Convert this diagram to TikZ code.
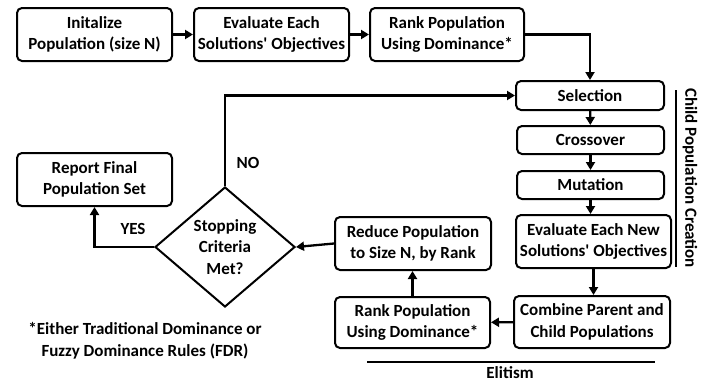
\documentclass[tikz,border=0pt]{standalone}
\usepackage{fontspec}
\newfontfamily\calib{Carlito}
\usetikzlibrary{shapes.geometric,arrows.meta}
\begin{document}
\begin{tikzpicture}[x=1pt,y=-1pt,
  every node/.style={font=\calib\bfseries\fontsize{17}{21.5}\selectfont, align=center},
  box/.style={draw, line width=2pt, rounded corners=5pt, inner sep=0pt},
  conn/.style={line width=2.3pt, -{Triangle[length=8pt,width=9pt]}},
  plain/.style={line width=2.2pt}]
\useasboundingbox (0,0) rectangle (720,383);
% top row
\node[box, minimum width=155, minimum height=53] (init) at (94.5,34.5) {Initalize\\Population (size N)};
\node[box, minimum width=155, minimum height=53] (eval) at (271.5,34.5) {Evaluate Each\\Solutions' Objectives};
\node[box, minimum width=154, minimum height=53] (rank1) at (447,34.5) {Rank Population\\Using Dominance*};
% right column
\node[box, minimum width=148, minimum height=29] (sel) at (590,95.5) {Selection};
\node[box, minimum width=147, minimum height=28] (cross) at (590.5,140) {Crossover};
\node[box, minimum width=147, minimum height=28] (mut) at (590.5,185) {Mutation};
\node[box, minimum width=155, minimum height=53] (evnew) at (593.5,241.5) {Evaluate Each New\\Solutions' Objectives};
\node[box, minimum width=156, minimum height=52] (comb) at (592,322) {Combine Parent and\\Child Populations};
\node[box, minimum width=155, minimum height=51] (rank2) at (412.5,322.5) {Rank Population\\Using Dominance*};
\node[box, minimum width=156, minimum height=53] (red) at (413,243.5) {Reduce Population\\to Size N, by Rank};
\node[draw, line width=2pt, shape=diamond, inner sep=0pt, minimum width=140, minimum height=120] (stop) at (225,247) {Stopping\\Criteria\\Met?};
\node[box, minimum width=155, minimum height=53] (rep) at (94.5,179.5) {Report Final\\Population Set};
% connectors
\draw[conn] (init) -- (eval);
\draw[conn] (eval) -- (rank1);
\draw[conn] (rank1.east) -| (sel.north);
\draw[conn] (sel) -- (cross);
\draw[conn] (cross) -- (mut);
\draw[conn] (mut.south) -- (mut.south |- evnew.north);
\draw[conn] (evnew.south) -- (evnew.south |- comb.north);
\draw[conn] (comb) -- (rank2);
\draw[conn] (rank2.north) -- (rank2.north |- red.south);
\draw[conn] (red.west) -- (stop.east);
\draw[conn] (stop.west) -| (rep.south);
\draw[conn] (stop.north) |- (sel.west);
\node at (133,229) {YES};
\node at (248,163) {NO};
% annotations
\coordinate (c1) at (676,90);
\coordinate (c2) at (676,267);
\draw[plain] (c1) -- (c2);
\node[rotate=-90] (cpc) at (690,178) {Child Population Creation};
\coordinate (e1) at (367,362);
\coordinate (e2) at (655,362);
\draw[plain] (e1) -- (e2);
\node[inner sep=0pt] (elit) at (510,373) {Elitism};
\node (foot) at (145,341) {*Either Traditional Dominance or\\Fuzzy Dominance Rules (FDR)};
\end{tikzpicture}
\end{document}
